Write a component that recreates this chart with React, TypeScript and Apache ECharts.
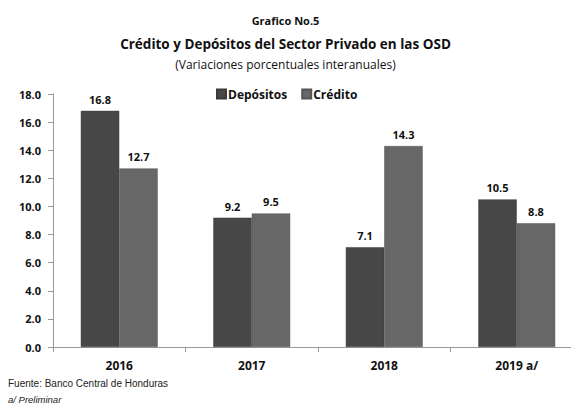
import React, { useEffect, useRef } from "react";
import * as echarts from "echarts";

const categories = ["2016", "2017", "2018", "2019 a/"];
const depositos = [16.8, 9.2, 7.1, 10.5];
const credito = [12.7, 9.5, 14.3, 8.8];
const yTicks = { min: 0, max: 18, interval: 2 };

const FONT = "'Open Sans', 'Noto Sans', sans-serif";

export default function App() {
  const ref = useRef<HTMLDivElement>(null);
  useEffect(() => {
    if (!ref.current) return;
    const chart = echarts.init(ref.current, null, { renderer: "svg" });
    const labelStyle = {
      show: true,
      position: "top" as const,
      distance: 6,
      fontFamily: FONT,
      fontWeight: "bold" as const,
      fontSize: 11,
      color: "#111",
      formatter: (p: any) => Number(p.value).toFixed(1),
    };
    chart.setOption({
      animation: false,
      backgroundColor: "#ffffff",
      title: [
        {
          text: "Grafico No.5",
          left: "center",
          top: 10,
          textStyle: { fontFamily: FONT, fontSize: 11, fontWeight: "bold", color: "#111" },
        },
        {
          text: "Crédito y Depósitos del Sector Privado en las OSD",
          left: "center",
          top: 32,
          textStyle: { fontFamily: FONT, fontSize: 13.5, fontWeight: "bold", color: "#111" },
        },
        {
          text: "(Variaciones porcentuales interanuales)",
          left: "center",
          top: 53,
          textStyle: { fontFamily: FONT, fontSize: 12, fontWeight: "normal", color: "#111" },
        },
      ],
      legend: {
        top: 83,
        left: 211,
        itemWidth: 9,
        itemHeight: 9,
        itemGap: 14,
        icon: "rect",
        textStyle: { fontFamily: FONT, fontSize: 12, fontWeight: "bold", color: "#111", padding: [0, 0, 0, -3] },
        data: ["Depósitos", "Crédito"],
      },
      grid: { left: 53, top: 94, width: 530, bottom: 59, containLabel: false, outerBoundsMode: "none" },
      xAxis: {
        type: "category",
        data: categories,
        axisLine: { lineStyle: { color: "#999", width: 1 } },
        axisTick: { show: true, length: 5, lineStyle: { color: "#999" } },
        axisLabel: {
          fontFamily: FONT,
          fontWeight: "bold",
          fontSize: 12,
          color: "#111",
          margin: 12,
        },
      },
      yAxis: {
        type: "value",
        min: yTicks.min,
        max: yTicks.max,
        interval: yTicks.interval,
        splitLine: { show: false },
        axisLine: { show: true, lineStyle: { color: "#999", width: 1 } },
        axisTick: { show: true, length: 5, lineStyle: { color: "#999" } },
        axisLabel: {
          fontFamily: FONT,
          fontWeight: "bold",
          fontSize: 11,
          color: "#111",
          margin: 12,
          formatter: (v: number) => v.toFixed(1),
        },
      },
      series: [
        {
          name: "Depósitos",
          type: "bar",
          data: depositos,
          barGap: "0%",
          barCategoryGap: "42%",
          itemStyle: { color: "#474747", borderColor: "#3a3a3a", borderWidth: 0.5 },
          label: labelStyle,
        },
        {
          name: "Crédito",
          type: "bar",
          data: credito,
          itemStyle: { color: "#676767", borderColor: "#555", borderWidth: 0.5 },
          label: labelStyle,
        },
      ],
      graphic: [
        {
          type: "text",
          left: 8,
          top: 378,
          style: {
            text: "Fuente: Banco Central de Honduras",
            fontFamily: "'Liberation Sans Narrow', 'Liberation Sans', Arial, sans-serif",
            fontSize: 10,
            fill: "#222",
          },
        },
        {
          type: "text",
          left: 8,
          top: 394,
          style: {
            text: "a/ Preliminar",
            fontFamily: "'Liberation Sans Narrow', 'Liberation Sans', Arial, sans-serif",
            fontSize: 9.5,
            fontStyle: "italic",
            fill: "#222",
          },
        },
      ],
    });
    return () => chart.dispose();
  }, []);
  return (
    <div
      ref={ref}
      style={{ position: "fixed", left: 0, top: 0, width: 571, height: 406, overflow: "hidden" }}
    />
  );
}
